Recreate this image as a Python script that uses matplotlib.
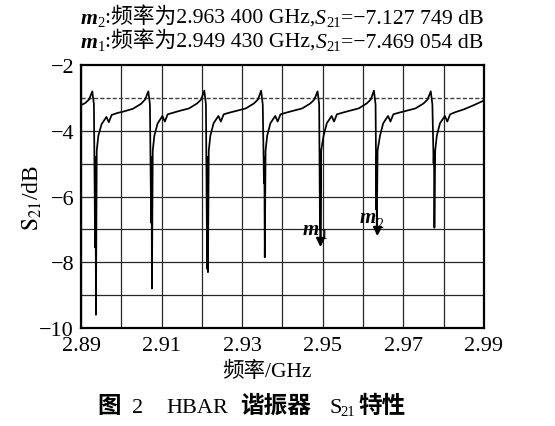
import numpy as np
import matplotlib
matplotlib.use('Agg')
import matplotlib.pyplot as plt

# S21 trace (GHz, dB)
freq = [2.8900, 2.8910, 2.8920, 2.8928, 2.8932,
        2.89350, 2.89360, 2.89370, 2.89390,
        2.8943, 2.8951, 2.8963, 2.8969, 2.8976, 2.8990,
        2.9004, 2.9029, 2.9049, 2.9059, 2.9067, 2.9071,
        2.90740, 2.90750, 2.90760, 2.90780,
        2.9082, 2.9090, 2.9102, 2.9108, 2.9115, 2.9129,
        2.9143, 2.9168, 2.9188, 2.9198, 2.9206, 2.9210,
        2.92130, 2.92140, 2.92150, 2.92170,
        2.9221, 2.9229, 2.9241, 2.9247, 2.9254, 2.9268,
        2.9284, 2.9309, 2.9329, 2.9339, 2.9347, 2.9351,
        2.93540, 2.93550, 2.93560, 2.93580,
        2.9362, 2.9370, 2.9382, 2.9388, 2.9395, 2.9409,
        2.9424, 2.9449, 2.9469, 2.9479, 2.9487, 2.9491,
        2.94930, 2.94937, 2.94943, 2.94960,
        2.9502, 2.9510, 2.9522, 2.9528, 2.9535, 2.9549,
        2.9564, 2.9589, 2.9609, 2.9619, 2.9627, 2.9631,
        2.96330, 2.96335, 2.96340, 2.96360,
        2.9642, 2.9650, 2.9662, 2.9668, 2.9675, 2.9689,
        2.9705, 2.9730, 2.9750, 2.9760, 2.9768, 2.9772,
        2.97750, 2.97760, 2.97770, 2.97790,
        2.9783, 2.9791, 2.9803, 2.9809, 2.9816, 2.9830,
        2.9850, 2.9875, 2.9900]
s21 = [-3.22, -3.16, -3.05, -2.80, -3.20,
       -7.55, -4.80, -9.60, -4.60,
       -4.15, -3.80, -3.58, -3.74, -3.52, -3.46,
       -3.42, -3.33, -3.18, -3.05, -2.80, -3.20,
       -6.80, -4.80, -8.80, -4.60,
       -4.15, -3.78, -3.55, -3.72, -3.50, -3.45,
       -3.40, -3.32, -3.17, -3.05, -2.78, -3.20,
       -8.20, -4.80, -8.30, -4.60,
       -4.15, -3.77, -3.55, -3.72, -3.50, -3.45,
       -3.40, -3.32, -3.17, -3.05, -2.78, -3.20,
       -5.60, -4.80, -7.85, -4.60,
       -4.15, -3.77, -3.55, -3.72, -3.50, -3.45,
       -3.40, -3.32, -3.17, -3.05, -2.80, -3.20,
       -7.00, -4.80, -7.47, -4.60,
       -4.15, -3.77, -3.55, -3.72, -3.50, -3.45,
       -3.40, -3.32, -3.17, -3.05, -2.78, -3.20,
       -6.40, -4.80, -7.13, -4.60,
       -4.15, -3.77, -3.55, -3.72, -3.50, -3.45,
       -3.40, -3.32, -3.17, -3.05, -2.80, -3.20,
       -5.00, -4.60, -6.95, -4.60,
       -4.15, -3.77, -3.55, -3.72, -3.50, -3.43,
       -3.35, -3.22, -3.08]

# markers
mk_names = ['1', '2']
mk_freq = [2.949430, 2.963400]
mk_val = [-7.469054, -7.127749]

xticks = [2.89, 2.91, 2.93, 2.95, 2.97, 2.99]
xgrid = [2.89, 2.90, 2.91, 2.92, 2.93, 2.94, 2.95, 2.96, 2.97, 2.98, 2.99]
yticks = [-10, -8, -6, -4, -2]
ygrid = [-9, -8, -7, -6, -5, -4]

SERIF = 'Liberation Serif'
MIX = ['Liberation Serif', 'Noto Sans CJK SC']
plt.rcParams['mathtext.fontset'] = 'stix'

fig = plt.figure(figsize=(5.55, 4.27), dpi=100)
W, H = 555, 427
ax = fig.add_axes([0.146, 0.2295, 0.726, 0.6159])

for g in xgrid:
    ax.axvline(g, color='0.15', lw=0.9, zorder=1)
for g in ygrid:
    ax.axhline(g, color='0.15', lw=0.9, zorder=1)
ax.axhline(-3, color='0.25', lw=1.0, ls=(0, (3, 1.5)), zorder=1)

ax.plot(freq, s21, color='black', lw=1.25, zorder=3)
ax.plot(mk_freq, [v + 0.12 for v in mk_val], 'v', color='black',
        markersize=6, zorder=4)

for n, f, v in zip(mk_names, mk_freq, mk_val):
    ax.annotate('m', xy=(f, v), xytext=(-1, 8), textcoords='offset points',
                ha='right', va='baseline', fontsize=15, family=SERIF,
                fontweight='bold', fontstyle='italic')
    ax.annotate(n, xy=(f, v), xytext=(0, 5), textcoords='offset points',
                ha='left', va='baseline', fontsize=10, family=SERIF)

ax.set_xlim(2.89, 2.99)
ax.set_ylim(-10, -2)
ax.set_xticks(xticks)
ax.set_xticklabels(['%.2f' % t for t in xticks], family=SERIF, fontsize=16)
ax.set_yticks(yticks)
ax.set_yticklabels(['\u2212%d' % abs(t) for t in yticks], family=SERIF, fontsize=16)
ax.tick_params(axis='x', length=0, pad=6)
ax.tick_params(axis='y', length=0, pad=5)
for sp in ax.spines.values():
    sp.set_linewidth(1.6)

ax.set_ylabel(r'$\mathrm{S}_{21}$/dB', fontsize=17, family=SERIF)
ax.yaxis.set_label_coords((44 - 81) / 403, 0.5)

fig.text(267 / W, 1 - 377 / H, '频率/GHz', family=MIX, fontsize=15.5,
         ha='center', va='baseline')


def rich(x, y, pieces):
    # one line of text built from pieces, centred at x, baseline y (pixels)
    r = fig.canvas.get_renderer()
    items = []
    cur = 0
    for s, kw, dy in pieces:
        t = fig.text(0, 0, s, va='baseline', ha='left', **kw)
        w = t.get_window_extent(r).width
        items.append((t, cur, dy))
        cur += w
    x0 = x - cur / 2
    for t, off, dy in items:
        t.set_position(((x0 + off) / W, (H - y + dy) / H))


big = dict(family=MIX, fontsize=15.7)
sub = dict(family=SERIF, fontsize=10.5)
mit = dict(family=SERIF, fontsize=15.7, fontweight='bold', fontstyle='italic')
sit = dict(family=SERIF, fontsize=15.7, fontstyle='italic')

rich(282, 24, [('m', mit, 0), ('2', sub, -3),
               (':频率为2.963 400 GHz,', big, 0), ('S', sit, 0), ('21', sub, -3),
               ('=\u22127.127 749 dB', big, 0)])
rich(282, 48, [('m', mit, 0), ('1', sub, -3),
               (':频率为2.949 430 GHz,', big, 0), ('S', sit, 0), ('21', sub, -3),
               ('=\u22127.469 054 dB', big, 0)])

# figure caption, pieces placed at their left edges (pixels)
cjkb = dict(family='Noto Sans CJK SC', fontsize=17, fontweight='bold')
ser = dict(family=SERIF, fontsize=16)
cap = [(97, '图', cjkb, 0), (132, '2', ser, 0), (166, 'HBAR', ser, 0),
       (240, '谐振器', cjkb, 0), (329, 'S', ser, 0), (340, '21', sub, -3),
       (358, '特性', cjkb, 0)]
for px, s, kw, dy in cap:
    fig.text(px / W, (H - 413 + dy) / H, s, va='baseline', ha='left', **kw)

fig.savefig('out.png', dpi=100)
